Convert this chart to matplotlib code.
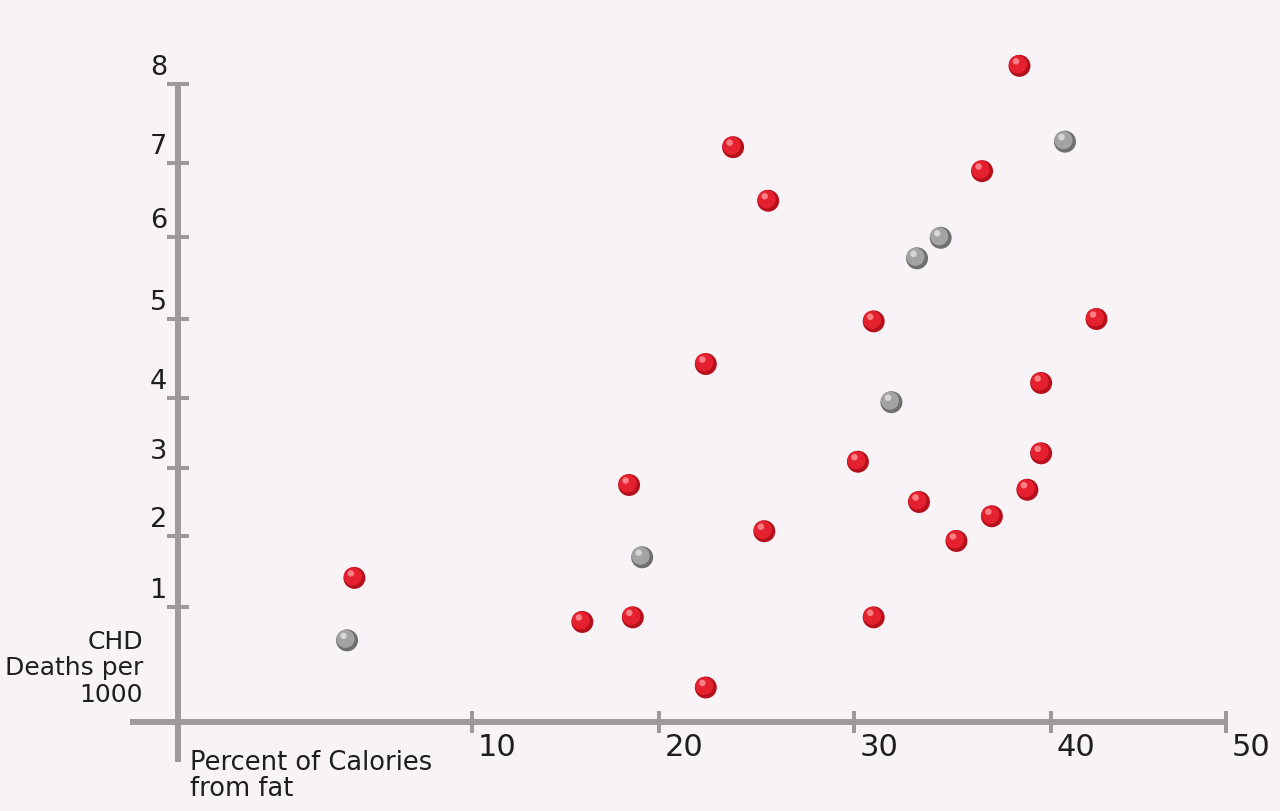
import numpy as np
import matplotlib
matplotlib.use("Agg")
import matplotlib.pyplot as plt
from matplotlib.transforms import offset_copy

# ---------------- data ----------------
x_ticks = [0, 10, 20, 30, 40, 50]
x_tick_labels = ["", "10", "20", "30", "40", "50"]
y_ticks = [0, 1, 2, 3, 4, 5, 6, 7, 8]
y_tick_labels = ["", "1", "2", "3", "4", "5", "6", "7", "8"]

red_x = [6.0, 18.4, 25.4, 15.9, 18.6, 22.4, 31.0, 42.6, 39.5, 30.2, 39.5,
         38.8, 33.3, 37.0, 35.2, 31.0, 38.4, 23.8, 36.5, 25.6, 22.4]
red_y = [1.41, 2.75, 2.07, 0.87, 0.91, 0.30, 4.97, 5.00, 4.19, 3.09, 3.21,
         2.68, 2.50, 2.29, 1.93, 0.91, 8.23, 7.20, 6.89, 6.49, 4.43]
gray_x = [5.75, 19.1, 31.9, 40.8, 34.4, 33.2]
gray_y = [0.71, 1.70, 3.94, 7.27, 5.99, 5.74]

y_title = "CHD\nDeaths per\n1000"
x_title = "Percent of Calories\nfrom fat"

# ---------------- layout / style ----------------
W, H, DPI = 1280, 811, 100
X_TICK_PX = [178, 472, 659, 854, 1051, 1226]          # hand-drawn (uneven) axis
Y_TICK_PX = [89, 204, 275, 343, 413, 492, 574, 648, 727]
BG = "#f7f3f6"
AXC = "#9d999d"
TXT = "#1e1e1e"
RED = ["#b5101c", "#e5212f", "#ff8a90"]
GRY = ["#6f6f6f", "#a3a3a3", "#dcdcdc"]
FONT = ["DejaVu Sans"]


def piecewise(src, dst):
    src = np.asarray(src, float)
    dst = np.asarray(dst, float)
    s0 = (dst[1] - dst[0]) / (src[1] - src[0])
    s1 = (dst[-1] - dst[-2]) / (src[-1] - src[-2])

    def f(v):
        v = np.asarray(v, float)
        out = np.interp(v, src, dst)
        out = np.where(v < src[0], dst[0] + (v - src[0]) * s0, out)
        out = np.where(v > src[-1], dst[-1] + (v - src[-1]) * s1, out)
        return out
    return f


fx, ix = piecewise(x_ticks, X_TICK_PX), piecewise(X_TICK_PX, x_ticks)
fy, iy = piecewise(y_ticks, Y_TICK_PX), piecewise(Y_TICK_PX, y_ticks)

fig = plt.figure(figsize=(W / DPI, H / DPI), dpi=DPI)
fig.patch.set_facecolor(BG)
ax = fig.add_axes([0, 0, 1, 1])
ax.set_facecolor(BG)
ax.set_xscale("function", functions=(fx, ix))
ax.set_yscale("function", functions=(fy, iy))
ax.set_xlim(float(ix(0)), float(ix(W)))
ax.set_ylim(float(iy(0)), float(iy(H)))
ax.axis("off")

# axis lines
x_start = float(ix(130))
y_start = float(iy(H - 762))
ax.plot([x_start, x_ticks[-1]], [0, 0], color=AXC, lw=4.3,
        solid_capstyle="butt", zorder=2)
ax.plot([0, 0], [y_start, y_ticks[-1]], color=AXC, lw=4.3,
        solid_capstyle="butt", zorder=2)
# tick marks
ax.plot(x_ticks[1:], [0] * (len(x_ticks) - 1), ls="none", marker="|",
        ms=16.5, mew=2.9, color=AXC, zorder=2)
ax.plot([0] * (len(y_ticks) - 1), y_ticks[1:], ls="none", marker="_",
        ms=16.5, mew=2.9, color=AXC, zorder=2)

# tick labels
for v, lab in zip(x_ticks, x_tick_labels):
    if lab:
        ax.annotate(lab, (v, 0), xytext=(6, -11), textcoords="offset pixels",
                    ha="left", va="top", fontsize=22, color=TXT, family=FONT)
for v, lab in zip(y_ticks, y_tick_labels):
    if lab:
        ax.annotate(lab, (0, v), xytext=(-11, 9), textcoords="offset pixels",
                    ha="right", va="baseline", fontsize=19.5, color=TXT, family=FONT)

# axis titles
fig.text(143 / W, 1 - 630 / H, y_title, ha="right", va="top", fontsize=18,
         color=TXT, family=FONT, linespacing=1.12)
fig.text(190 / W, 1 - 750 / H, x_title, ha="left", va="top", fontsize=18.5,
         color=TXT, family=FONT, linespacing=0.98)


# spheres
def spheres(xs, ys, cols):
    base, mid, hi = cols
    ax.scatter(xs, ys, s=250, color=base, edgecolors="none", zorder=4)
    ax.scatter(xs, ys, s=170, color=mid, edgecolors="none", zorder=5,
               transform=offset_copy(ax.transData, fig=fig, x=-1.5, y=1.5, units="dots"))
    ax.scatter(xs, ys, s=22, color=hi, edgecolors="none", zorder=6, alpha=0.9,
               transform=offset_copy(ax.transData, fig=fig, x=-3.5, y=4.5, units="dots"))


spheres(red_x, red_y, RED)
spheres(gray_x, gray_y, GRY)

fig.savefig("out.png", dpi=DPI, facecolor=BG)
